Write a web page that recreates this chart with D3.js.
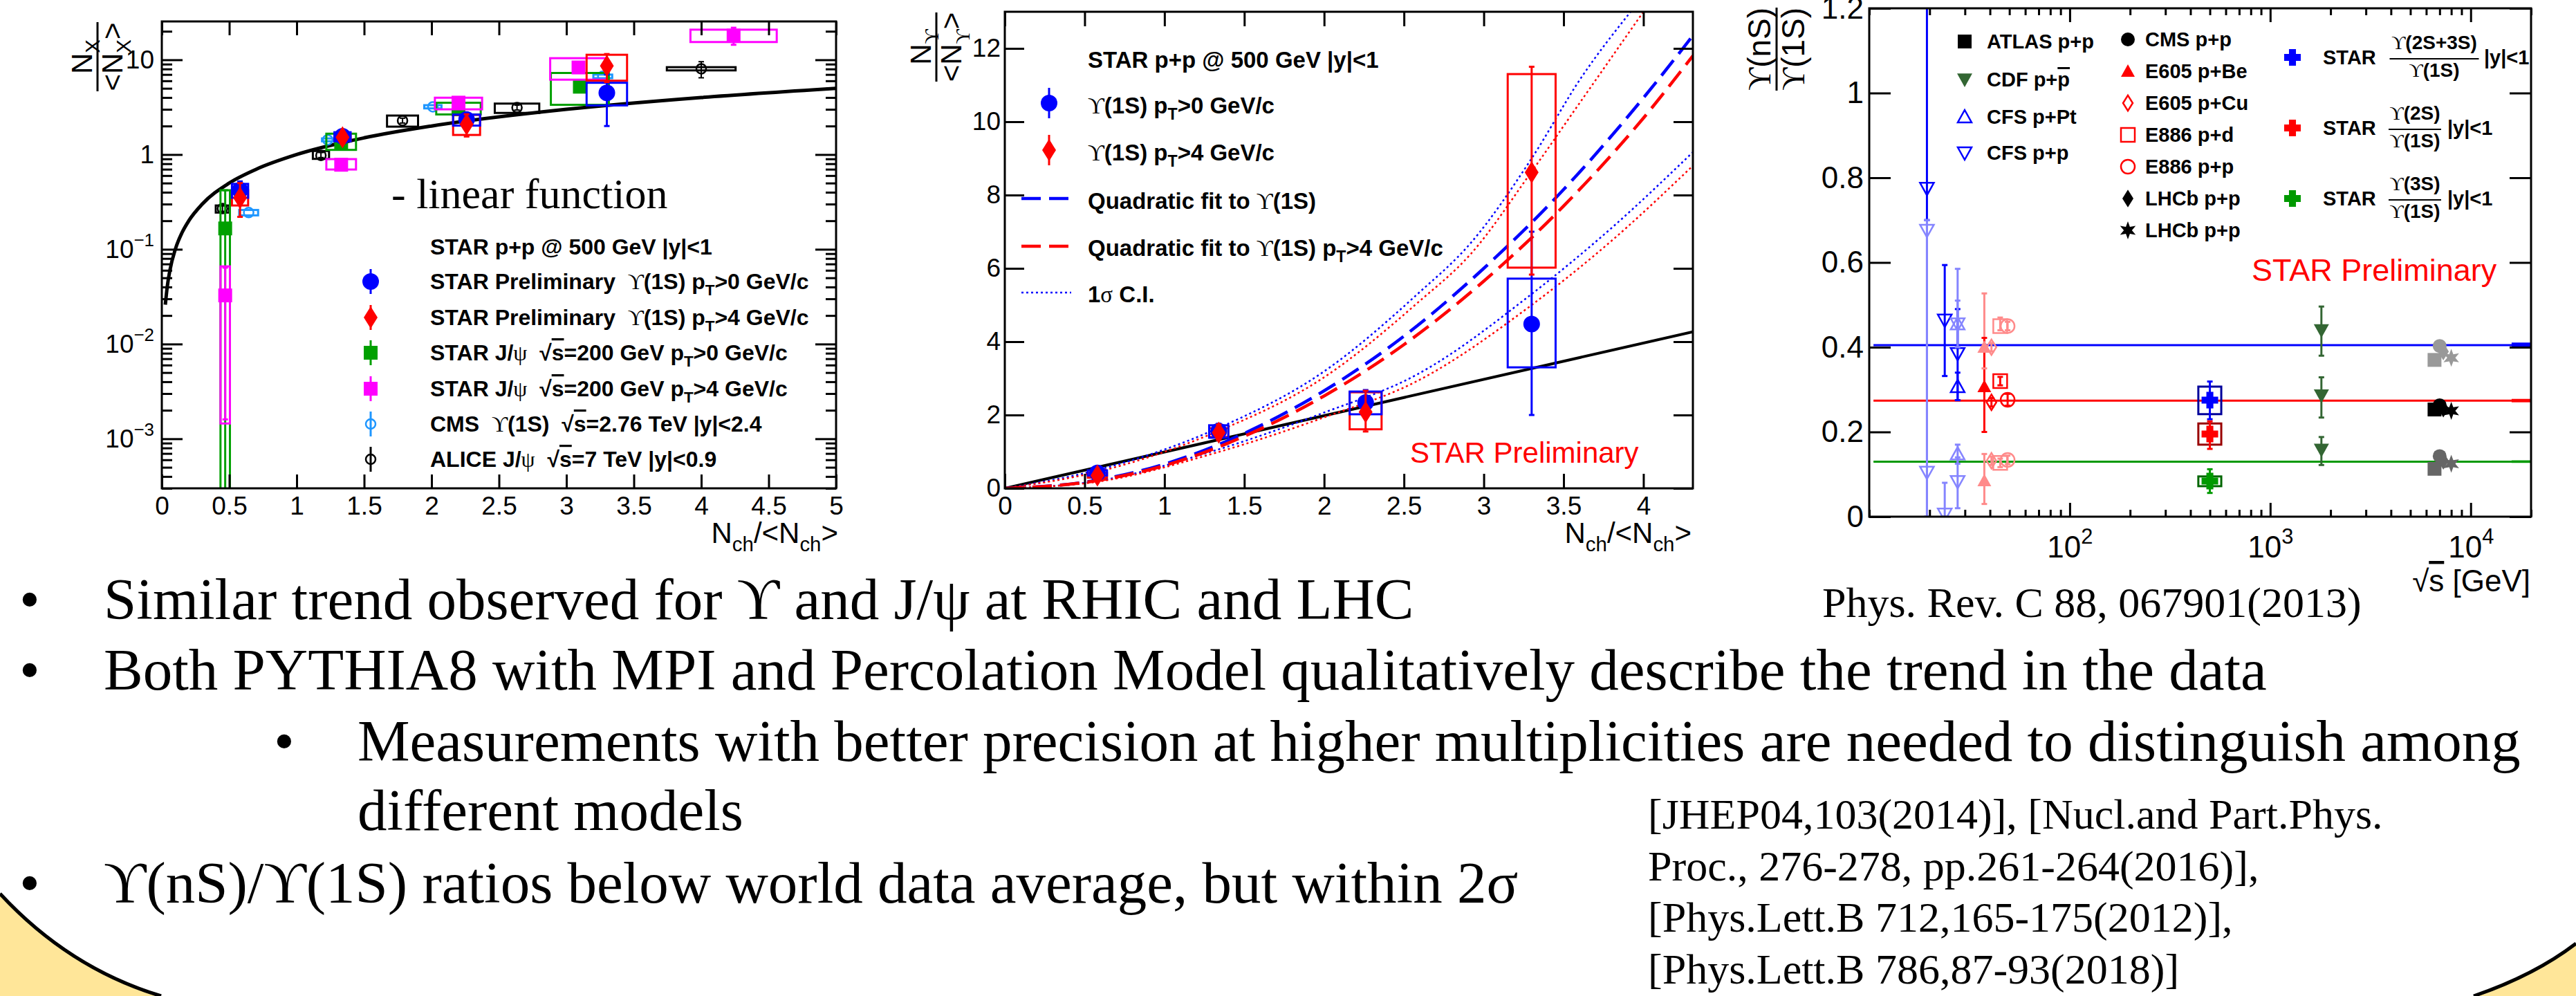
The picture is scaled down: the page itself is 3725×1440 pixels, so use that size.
<!DOCTYPE html>
<html>
<head>
<meta charset="utf-8">
<title>Upsilon yields vs multiplicity</title>
<script src="https://cdn.jsdelivr.net/npm/d3@7"></script>
<style>
  body { margin: 0; background: #fff; }
  svg { display: block; }
  text { white-space: pre; }
</style>
</head>
<body>
<svg id="slide" width="3725" height="1440"></svg>
<script>
// ---------- values ----------

// STAR Upsilon(1S), p+p 500 GeV |y|<1 (left and middle panels)
const upsX      = [0.58, 1.34, 2.26, 3.30];
const upsXerr   = [0.06, 0.06, 0.10, 0.15];
const ups0Y     = [0.42, 1.56, 2.34, 4.48];
const ups0Lo    = [0.33, 1.38, 2.05, 2.00];
const ups0Hi    = [0.52, 1.76, 2.68, 7.00];
const ups0SysLo = [0.35, 1.38, 2.02, 3.30];
const ups0SysHi = [0.49, 1.72, 2.64, 5.72];
const ups4Y     = [0.35, 1.52, 2.08, 8.62];
const ups4Lo    = [0.22, 1.32, 1.55, 5.83];
const ups4Hi    = [0.50, 1.74, 2.66, 11.5];
const ups4SysLo = [0.29, 1.40, 1.61, 6.02];
const ups4SysHi = [0.42, 1.64, 2.62, 11.3];

// left panel: STAR J/psi 200 GeV, pT>0
const jpsi0X     = [0.47, 1.33, 2.20, 3.10];
const jpsi0Xerr  = [0.035, 0.11, 0.165, 0.215];
const jpsi0Y     = [0.166, 1.34, 3.00, 5.20];
const jpsi0Lo    = [0.0001, 1.22, 2.80, 4.60];
const jpsi0Hi    = [0.42, 1.48, 3.25, 5.90];
const jpsi0SysLo = [0.0001, 1.12, 2.65, 3.35];
const jpsi0SysHi = [0.42, 1.66, 3.52, 7.26];
// left panel: STAR J/psi 200 GeV, pT>4
const jpsi4X     = [0.47, 1.33, 2.20, 3.09, 4.24];
const jpsi4Xerr  = [0.035, 0.11, 0.175, 0.21, 0.32];
const jpsi4Y     = [0.0326, 0.78, 3.53, 8.30, 18.0];
const jpsi4Lo    = [0.0016, 0.70, 3.20, 7.60, 14.4];
const jpsi4Hi    = [0.064, 0.86, 3.85, 9.00, 21.8];
const jpsi4SysLo = [0.00145, 0.695, 3.00, 6.17, 15.4];
const jpsi4SysHi = [0.066, 0.895, 3.98, 10.4, 20.8];
// left panel: CMS Upsilon(1S) 2.76 TeV
const cmsX     = [0.644, 1.23, 2.01, 3.27];
const cmsXerr  = [0.07, 0.042, 0.064, 0.07];
const cmsY     = [0.244, 1.43, 3.19, 6.70];
const cmsSysLo = [0.228, 1.38, 3.07, 6.40];
const cmsSysHi = [0.260, 1.48, 3.32, 6.98];
// left panel: ALICE J/psi 7 TeV
const aliX     = [0.45, 1.18, 1.785, 2.634, 4.00];
const aliXerr  = [0.05, 0.06, 0.115, 0.165, 0.255];
const aliY     = [0.269, 0.98, 2.28, 3.13, 8.04];
const aliLo    = [0.252, 0.93, 2.15, 2.95, 6.46];
const aliHi    = [0.288, 1.05, 2.42, 3.32, 9.55];
const aliSysLo = [0.244, 0.90, 1.97, 2.75, 7.73];
const aliSysHi = [0.290, 1.09, 2.58, 3.45, 8.36];
// left panel: "linear function"
const linX = [0.026, 0.04, 0.06, 0.1, 0.15, 0.2, 0.3, 0.5, 0.7, 1, 1.5, 2, 3, 4, 5];
const linY = [0.026, 0.04, 0.06, 0.1, 0.15, 0.2, 0.3, 0.5, 0.7, 1, 1.5, 2, 3, 4, 5];

// middle panel curves
const midLinX = [0, 4.31];
const midLinY = [0, 4.27];
const fitX    = [0, 0.5, 1, 1.5, 2, 2.5, 3, 3.5, 4, 4.31];
const fit0Y   = [0, 0.17, 0.66, 1.50, 2.66, 4.15, 6.00, 8.15, 10.65, 12.35];
const fit4Y   = [0, 0.16, 0.62, 1.42, 2.52, 3.92, 5.65, 7.70, 10.10, 11.80];
const ci0UpX  = [0, 0.58, 1.33, 1.99, 2.58, 2.92, 3.30, 3.61, 3.92];
const ci0UpY  = [0, 0.50, 1.63, 3.16, 5.28, 6.70, 9.00, 11.2, 13.0];
const ci4UpX  = [0, 0.58, 1.33, 1.99, 2.58, 2.92, 3.30, 3.61, 4.00];
const ci4UpY  = [0, 0.45, 1.55, 3.00, 5.04, 6.40, 8.64, 10.57, 13.0];
const ciLoX   = [0, 0.58, 1.33, 1.99, 2.58, 3.30, 3.80, 4.31];
const ci0LoY  = [0, 0.20, 1.05, 2.05, 3.10, 5.30, 7.10, 9.17];
const ci4LoY  = [0, 0.18, 0.98, 1.92, 2.92, 5.00, 6.75, 8.80];

// right panel: Upsilon(nS)/Upsilon(1S) vs sqrt(s) [GeV]; pale = drawn in the light shade
const cfsPPs    = [19.4, 19.4, 19.4, 23.8, 23.8, 27.6, 27.6, 27.6];
const cfsPPr    = [0.775, 0.676, 0.105, 0.464, 0.006, 0.455, 0.385, 0.083];
const cfsPPlo   = [0.70, 0.0, 0.0, 0.332, 0.0, 0.40, 0.275, 0.02];
const cfsPPhi   = [1.30, 0.70, 0.70, 0.594, 0.08, 0.585, 0.49, 0.14];
const cfsPPpale = [0, 1, 1, 0, 1, 1, 0, 1];
const cfsPts    = [27.6, 27.6, 27.6];
const cfsPtr    = [0.455, 0.307, 0.148];
const cfsPtlo   = [0.40, 0.275, 0.125];
const cfsPthi   = [0.51, 0.34, 0.17];
const cfsPtpale = [1, 0, 1];
const e605Bes   = [37.5, 37.5, 37.5];
const e605Ber   = [0.40, 0.307, 0.085];
const e605Belo  = [0.35, 0.20, 0.03];
const e605Behi  = [0.527, 0.422, 0.148];
const e605Cus   = [40.7, 40.7, 40.7];
const e605Cur   = [0.40, 0.27, 0.132];
const e605Culo  = [0.39, 0.26, 0.122];
const e605Cuhi  = [0.41, 0.28, 0.142];
const e886ds    = [45, 45, 45];
const e886dr    = [0.45, 0.32, 0.127];
const e886dlo   = [0.44, 0.31, 0.117];
const e886dhi   = [0.47, 0.33, 0.137];
const e886ps    = [49, 49, 49];
const e886pr    = [0.45, 0.276, 0.134];
const e886plo   = [0.44, 0.262, 0.124];
const e886phi   = [0.46, 0.29, 0.144];
const e8xxPale  = [1, 0, 1];
const cdfS      = [1800, 1800, 1800];
const cdfR      = [0.44, 0.286, 0.158];
const cdfLo     = [0.38, 0.234, 0.122];
const cdfHi     = [0.496, 0.329, 0.188];
const atlasS    = [6600, 6600, 6600];
const atlasR    = [0.37, 0.253, 0.113];
const cmsppS    = [7000, 7000, 7000];
const cmsppR    = [0.403, 0.263, 0.143];
const lhcbDS    = [7300, 7300, 7300];
const lhcbDR    = [0.39, 0.255, 0.132];
const lhcbSS    = [8000, 8000, 8000];
const lhcbSR    = [0.375, 0.25, 0.125];
const starS     = [500, 500, 500];
const starR     = [0.275, 0.195, 0.084];
const starLo    = [0.23, 0.16, 0.056];
const starHi    = [0.319, 0.225, 0.112];
const starSysLo = [0.242, 0.17, 0.072];
const starSysHi = [0.307, 0.22, 0.095];
const starSLo   = [438, 438, 438];
const starSHi   = [570, 570, 570];
const avgR      = [0.405, 0.274, 0.13];
const avgErr    = [0.006, 0.004, 0.003];
const avgS      = [10.5, 20000];
const avgBandS  = 16000;

// tick labels
const leftXTicks  = [0, 0.5, 1, 1.5, 2, 2.5, 3, 3.5, 4, 4.5, 5];
const leftXLabels = ["0", "0.5", "1", "1.5", "2", "2.5", "3", "3.5", "4", "4.5", "5"];
const leftYTicks  = [0.001, 0.01, 0.1, 1, 10];
const leftYLabels = ["10^\u22123", "10^\u22122", "10^\u22121", "1", "10"];
const midXTicks   = [0, 0.5, 1, 1.5, 2, 2.5, 3, 3.5, 4];
const midXLabels  = ["0", "0.5", "1", "1.5", "2", "2.5", "3", "3.5", "4"];
const midYTicks   = [0, 2, 4, 6, 8, 10, 12];
const midYLabels  = ["0", "2", "4", "6", "8", "10", "12"];
const rightXTicks  = [100, 1000, 10000];
const rightXLabels = ["10^2", "10^3", "10^4"];
const rightYTicks  = [0, 0.2, 0.4, 0.6, 0.8, 1, 1.2];
const rightYLabels = ["0", "0.2", "0.4", "0.6", "0.8", "1", "1.2"];

// ---------- drawing helpers ----------
const SANS = "'Liberation Sans', Arial, Helvetica, sans-serif";
const SERIF = "'Liberation Serif', 'DejaVu Serif', 'Times New Roman', serif";
const UPS = "\u03d2";
const svg = d3.select("#slide");
svg.append("rect").attr("width", 3725).attr("height", 1440).attr("fill", "#fff");

// parts: [text, flags]; flags may hold "sub", "sup", "bar" (overline), "g" (symbol-font glyph)
function rich(text, parts, fs) {
  let shift = 0;
  parts.forEach(([str, kind]) => {
    const k = (kind || "").split(" ");
    const target = k.includes("sub") ? 0.28 * fs : k.includes("sup") ? -0.42 * fs : 0;
    const ts = text.append("tspan").attr("dy", target - shift).text(str);
    shift = target;
    if (k.includes("sub") || k.includes("sup")) ts.attr("font-size", 0.7 * fs);
    if (k.includes("bar")) ts.style("text-decoration", "overline");
    if (k.includes("g")) ts.attr("font-family", SERIF).attr("font-weight", "normal");
  });
  return text;
}

function star6(s) {
  const pts = d3.range(12).map(k => {
    const a = Math.PI / 6 * k - Math.PI / 2, r = k % 2 ? s * 0.45 : s;
    return [r * Math.cos(a), r * Math.sin(a)];
  });
  return "M" + pts.join("L") + "Z";
}

function shape(type, s) {
  const t = s * 0.42;
  switch (type) {
    case "circle": return d3.symbol(d3.symbolCircle, Math.PI * s * s)();
    case "square": return `M${-s},${-s}H${s}V${s}H${-s}Z`;
    case "diamond": return `M0,${-1.6 * s}L${s},0L0,${1.6 * s}L${-s},0Z`;
    case "up": return `M0,${-s}L${s},${0.8 * s}L${-s},${0.8 * s}Z`;
    case "down": return `M0,${s}L${s},${-0.8 * s}L${-s},${-0.8 * s}Z`;
    case "cross": return `M${-t},${-s}H${t}V${-t}H${s}V${t}H${t}V${s}H${-t}V${t}H${-s}V${-t}H${-t}Z`;
    case "star": return star6(s);
  }
}

function plotArea(g, id, b) {
  g.append("clipPath").attr("id", id).append("rect")
    .attr("x", b.x0).attr("y", b.y0).attr("width", b.x1 - b.x0).attr("height", b.y1 - b.y0);
  return g.append("g").attr("clip-path", `url(#${id})`);
}

function boxes(g, xs, xerr, lo, hi, xS, yS, color) {
  g.append("g").selectAll("rect").data(xs).join("rect")
    .attr("x", (d, i) => xS(d - xerr[i]))
    .attr("width", (d, i) => xS(d + xerr[i]) - xS(d - xerr[i]))
    .attr("y", (d, i) => yS(hi[i]))
    .attr("height", (d, i) => yS(lo[i]) - yS(hi[i]))
    .attr("fill", "none").attr("stroke", color).attr("stroke-width", 3);
}

function errs(g, xs, lo, hi, xS, yS, color, w = 3) {
  const col = i => Array.isArray(color) ? color[i] : color;
  const e = g.append("g").attr("stroke-width", w);
  e.selectAll("line.v").data(xs).join("line").attr("class", "v")
    .attr("stroke", (d, i) => col(i))
    .attr("x1", d => xS(d)).attr("x2", d => xS(d))
    .attr("y1", (d, i) => yS(lo[i])).attr("y2", (d, i) => yS(hi[i]));
  const ends = xs.flatMap((d, i) => [[d, lo[i], i], [d, hi[i], i]]);
  e.selectAll("line.c").data(ends).join("line").attr("class", "c")
    .attr("stroke", d => col(d[2]))
    .attr("x1", d => xS(d[0]) - 4).attr("x2", d => xS(d[0]) + 4)
    .attr("y1", d => yS(d[1])).attr("y2", d => yS(d[1]));
}

function marks(g, xs, ys, xS, yS, type, s, color, filled, sw = 2.5) {
  const col = i => Array.isArray(color) ? color[i] : color;
  g.append("g").selectAll("path").data(xs).join("path")
    .attr("d", shape(type, s))
    .attr("transform", (d, i) => `translate(${xS(d)},${yS(ys[i])})`)
    .attr("fill", (d, i) => filled ? col(i) : "none")
    .attr("stroke", (d, i) => col(i)).attr("stroke-width", filled ? 0 : sw);
}

function curve(g, xs, ys, xS, yS, color, w, dash) {
  g.append("path").datum(xs)
    .attr("d", d3.line().x(d => xS(d)).y((d, i) => yS(ys[i])).curve(d3.curveMonotoneX))
    .attr("fill", "none").attr("stroke", color).attr("stroke-width", w)
    .attr("stroke-dasharray", dash || null);
}

function frame(g, b, xS, yS, xt, yt) {
  const tk = (gen, tr, vals, len) => g.append("g").attr("transform", tr)
    .call(gen.tickValues(vals).tickSize(-len).tickFormat(""))
    .call(a => { a.select(".domain").remove(); a.selectAll("line").attr("stroke", "#000").attr("stroke-width", 3); });
  [[xt.major, xt.len], [xt.minor || [], xt.minLen]].forEach(([v, len]) => {
    tk(d3.axisBottom(xS), `translate(0,${b.y1})`, v, len);
    tk(d3.axisTop(xS), `translate(0,${b.y0})`, v, len);
  });
  [[yt.major, yt.len], [yt.minor || [], yt.minLen]].forEach(([v, len]) => {
    tk(d3.axisLeft(yS), `translate(${b.x0},0)`, v, len);
    tk(d3.axisRight(yS), `translate(${b.x1},0)`, v, len);
  });
  g.append("rect").attr("x", b.x0).attr("y", b.y0)
    .attr("width", b.x1 - b.x0).attr("height", b.y1 - b.y0)
    .attr("fill", "none").attr("stroke", "#000").attr("stroke-width", 3);
}

function labels(g, gen, tr, vals, labs, fs, pad) {
  const a = g.append("g").attr("transform", tr)
    .call(gen.tickValues(vals).tickSize(0).tickPadding(pad).tickFormat((d, i) => labs[i]));
  a.select(".domain").remove();
  a.attr("font-family", SANS).attr("font-size", fs);
  a.selectAll("text").attr("fill", "#000").each(function (d, i) {
    const [b, e] = labs[i].split("^");
    if (e) {
      const t = d3.select(this).text(b);
      t.append("tspan").attr("dy", -0.45 * fs).attr("font-size", 0.7 * fs).text(e);
    }
  });
}

function fracTitle(g, x, y, num, den, fs, bar) {
  const t = g.append("g").attr("transform", `translate(${x},${y}) rotate(-90)`)
    .attr("font-family", SANS).attr("font-size", fs).attr("text-anchor", "middle");
  rich(t.append("text").attr("y", -0.2 * fs), num, fs);
  t.append("line").attr("x1", -bar / 2).attr("x2", bar / 2).attr("stroke", "#000").attr("stroke-width", 3);
  rich(t.append("text").attr("y", 0.86 * fs), den, fs);
}

function label(g, x, y, parts, fs, opt = {}) {
  const t = g.append("text").attr("x", x).attr("y", y)
    .attr("font-family", opt.font || SANS).attr("font-size", fs)
    .attr("font-weight", opt.bold ? "bold" : null)
    .attr("text-anchor", opt.anchor || "start")
    .attr("fill", opt.fill || "#000");
  return rich(t, parts, fs);
}

function legendMark(g, x, y, type, s, color, filled, whisker) {
  if (whisker) g.append("line").attr("x1", x).attr("x2", x).attr("y1", y - whisker).attr("y2", y + whisker)
    .attr("stroke", color).attr("stroke-width", 3);
  g.append("path").attr("d", shape(type, s)).attr("transform", `translate(${x},${y})`)
    .attr("fill", filled ? color : "none").attr("stroke", color).attr("stroke-width", filled ? 0 : 2.5);
}

// ---------- slide decoration ----------
const deco = svg.append("g");
[["M0,1292 Q100,1400 233,1440", " L0,1440 Z"], ["M3725,1364 Q3665,1410 3577,1440", " L3725,1440 Z"]].forEach(([d, close]) => {
  deco.append("path").attr("d", d + close).attr("fill", "#ffe699");
  deco.append("path").attr("d", d).attr("fill", "none").attr("stroke", "#000").attr("stroke-width", 5);
});

// ---------- left panel ----------
const L = { x0: 234, x1: 1209, y0: 31, y1: 706 };
const lx = d3.scaleLinear().domain([0, 5]).range([L.x0, L.x1]);
const ly = d3.scaleLog().domain([3.0e-4, 25.4]).range([L.y1, L.y0]);
const gL = svg.append("g");
const pL = plotArea(gL, "clipL", L);

curve(pL, linX, linY, lx, ly, "#000", 5);
boxes(pL, aliX, aliXerr, aliSysLo, aliSysHi, lx, ly, "#000");
errs(pL, aliX, aliLo, aliHi, lx, ly, "#000", 2);
marks(pL, aliX, aliY, lx, ly, "circle", 7, "#000", false);
boxes(pL, cmsX, cmsXerr, cmsSysLo, cmsSysHi, lx, ly, "#1e96ff");
marks(pL, cmsX, cmsY, lx, ly, "circle", 7, "#1e96ff", false);
boxes(pL, jpsi0X, jpsi0Xerr, jpsi0SysLo, jpsi0SysHi, lx, ly, "#00a000");
errs(pL, jpsi0X, jpsi0Lo, jpsi0Hi, lx, ly, "#00a000");
marks(pL, jpsi0X, jpsi0Y, lx, ly, "square", 10, "#00a000", true);
boxes(pL, jpsi4X, jpsi4Xerr, jpsi4SysLo, jpsi4SysHi, lx, ly, "#ff00ff");
errs(pL, jpsi4X, jpsi4Lo, jpsi4Hi, lx, ly, "#ff00ff");
marks(pL, jpsi4X, jpsi4Y, lx, ly, "square", 10, "#ff00ff", true);
boxes(pL, upsX, upsXerr, ups4SysLo, ups4SysHi, lx, ly, "#ff0000");
boxes(pL, upsX, upsXerr, ups0SysLo, ups0SysHi, lx, ly, "#0000ff");
errs(pL, upsX, ups0Lo, ups0Hi, lx, ly, "#0000ff");
marks(pL, upsX, ups0Y, lx, ly, "circle", 12, "#0000ff", true);
errs(pL, upsX, ups4Lo, ups4Hi, lx, ly, "#ff0000");
marks(pL, upsX, ups4Y, lx, ly, "diamond", 10, "#ff0000", true);

frame(gL, L, lx, ly,
  { major: leftXTicks, len: 20 },
  { major: leftYTicks, len: 30, minor: ly.ticks().filter(v => !leftYTicks.includes(v)), minLen: 15 });
labels(gL, d3.axisBottom(lx), `translate(0,${L.y1})`, leftXTicks, leftXLabels, 37, 12);
labels(gL, d3.axisLeft(ly), `translate(${L.x0},0)`, leftYTicks, leftYLabels, 37, 11);
fracTitle(gL, 141, 82, [["N", ""], ["X", "sub"]], [["<N", ""], ["X", "sub"], [">", ""]], 42, 100);
label(gL, 1212, 785, [["N", ""], ["ch", "sub"], ["/<N", ""], ["ch", "sub"], [">", ""]], 42, { anchor: "end" });
label(gL, 566, 301, [["- linear function", ""]], 62, { font: SERIF });

const leftLegend = [
  { y: 407, type: "circle", s: 12, color: "#0000ff", filled: true, parts: [["STAR Preliminary  ", ""], [UPS, "g"], ["(1S) p", ""], ["T", "sub"], [">0 GeV/c", ""]] },
  { y: 459, type: "diamond", s: 10, color: "#ff0000", filled: true, parts: [["STAR Preliminary  ", ""], [UPS, "g"], ["(1S) p", ""], ["T", "sub"], [">4 GeV/c", ""]] },
  { y: 510, type: "square", s: 10, color: "#00a000", filled: true, parts: [["STAR J/", ""], ["\u03c8", "g"], ["  \u221a", ""], ["s", "bar"], ["=200 GeV p", ""], ["T", "sub"], [">0 GeV/c", ""]] },
  { y: 562, type: "square", s: 10, color: "#ff00ff", filled: true, parts: [["STAR J/", ""], ["\u03c8", "g"], ["  \u221a", ""], ["s", "bar"], ["=200 GeV p", ""], ["T", "sub"], [">4 GeV/c", ""]] },
  { y: 613, type: "circle", s: 7, color: "#1e96ff", filled: false, parts: [["CMS  ", ""], [UPS, "g"], ["(1S)  \u221a", ""], ["s", "bar"], ["=2.76 TeV |y|<2.4", ""]] },
  { y: 664, type: "circle", s: 7, color: "#000", filled: false, parts: [["ALICE J/", ""], ["\u03c8", "g"], ["  \u221a", ""], ["s", "bar"], ["=7 TeV |y|<0.9", ""]] }
];
label(gL, 622, 368, [["STAR p+p @ 500 GeV |y|<1", ""]], 32, { bold: true });
leftLegend.forEach(e => {
  legendMark(gL, 536, e.y, e.type, e.s, e.color, e.filled, 18);
  label(gL, 622, e.y + 11, e.parts, 32, { bold: true });
});

// ---------- middle panel ----------
const M = { x0: 1453, x1: 2448, y0: 17, y1: 706 };
const mx = d3.scaleLinear().domain([0, 4.31]).range([M.x0, M.x1]);
const my = d3.scaleLinear().domain([0, 13]).range([M.y1, M.y0]);
const gM = svg.append("g");
const pM = plotArea(gM, "clipM", M);

curve(pM, midLinX, midLinY, mx, my, "#000", 4);
curve(pM, ci0UpX, ci0UpY, mx, my, "#0000ff", 2.5, "3,4");
curve(pM, ciLoX, ci0LoY, mx, my, "#0000ff", 2.5, "3,4");
curve(pM, ci4UpX, ci4UpY, mx, my, "#ff0000", 2.5, "3,4");
curve(pM, ciLoX, ci4LoY, mx, my, "#ff0000", 2.5, "3,4");
curve(pM, fitX, fit0Y, mx, my, "#0000ff", 4.5, "28,12");
curve(pM, fitX, fit4Y, mx, my, "#ff0000", 4.5, "28,12");
boxes(pM, upsX, upsXerr, ups4SysLo, ups4SysHi, mx, my, "#ff0000");
boxes(pM, upsX, upsXerr, ups0SysLo, ups0SysHi, mx, my, "#0000ff");
errs(pM, upsX, ups0Lo, ups0Hi, mx, my, "#0000ff");
marks(pM, upsX, ups0Y, mx, my, "circle", 12, "#0000ff", true);
errs(pM, upsX, ups4Lo, ups4Hi, mx, my, "#ff0000");
marks(pM, upsX, ups4Y, mx, my, "diamond", 10, "#ff0000", true);

frame(gM, M, mx, my, { major: midXTicks, len: 21 }, { major: midYTicks, len: 28 });
labels(gM, d3.axisBottom(mx), `translate(0,${M.y1})`, midXTicks, midXLabels, 37, 12);
labels(gM, d3.axisLeft(my), `translate(${M.x0},0)`, midYTicks, midYLabels, 37, 6);
fracTitle(gM, 1354, 68, [["N", ""], [UPS, "sub g"]], [["<N", ""], [UPS, "sub g"], [">", ""]], 42, 100);
label(gM, 2446, 785, [["N", ""], ["ch", "sub"], ["/<N", ""], ["ch", "sub"], [">", ""]], 42, { anchor: "end" });
label(gM, 2039, 669, [["STAR Preliminary", ""]], 42, { fill: "#ff0000" });

label(gM, 1573, 98, [["STAR p+p @ 500 GeV |y|<1", ""]], 33, { bold: true });
legendMark(gM, 1517, 149, "circle", 12, "#0000ff", true, 22);
label(gM, 1573, 164, [[UPS, "g"], ["(1S) p", ""], ["T", "sub"], [">0 GeV/c", ""]], 33, { bold: true });
legendMark(gM, 1517, 217, "diamond", 10, "#ff0000", true, 22);
label(gM, 1573, 232, [[UPS, "g"], ["(1S) p", ""], ["T", "sub"], [">4 GeV/c", ""]], 33, { bold: true });
[[287, "#0000ff", "28,12", 4.5], [356, "#ff0000", "28,12", 4.5], [423, "#0000ff", "3,4", 2.5]].forEach(([y, c, dash, w]) => {
  gM.append("line").attr("x1", 1477).attr("x2", 1549).attr("y1", y).attr("y2", y)
    .attr("stroke", c).attr("stroke-width", w).attr("stroke-dasharray", dash);
});
label(gM, 1573, 302, [["Quadratic fit to ", ""], [UPS, "g"], ["(1S)", ""]], 33, { bold: true });
label(gM, 1573, 370, [["Quadratic fit to ", ""], [UPS, "g"], ["(1S) p", ""], ["T", "sub"], [">4 GeV/c", ""]], 33, { bold: true });
label(gM, 1573, 437, [["1", ""], ["\u03c3", "g"], [" C.I.", ""]], 33, { bold: true });

// ---------- right panel ----------
const R = { x0: 2703, x1: 3660, y0: 12, y1: 747 };
const rx = d3.scaleLog().domain([10, 20000]).range([R.x0, R.x1]);
const ry = d3.scaleLinear().domain([0, 1.2]).range([R.y1, R.y0]);
const gR = svg.append("g");
const pR = plotArea(gR, "clipR", R);
const starCol = ["#0000ff", "#ff0000", "#009900"];
const starBox = ["#00009a", "#990000", "#006600"];

avgR.forEach((v, i) => {
  pR.append("line").attr("x1", rx(avgS[0])).attr("x2", rx(avgS[1]))
    .attr("y1", ry(v)).attr("y2", ry(v)).attr("stroke", starCol[i]).attr("stroke-width", 3);
  pR.append("rect").attr("x", rx(avgBandS)).attr("width", rx(avgS[1]) - rx(avgBandS))
    .attr("y", ry(v + avgErr[i])).attr("height", ry(v - avgErr[i]) - ry(v + avgErr[i]))
    .attr("fill", starCol[i]);
});

const blue = ["#0000ff", "#8585ff"], red = ["#ff0000", "#ff8a8a"];
const worldSets = [
  [cfsPPs, cfsPPr, cfsPPlo, cfsPPhi, cfsPPpale, "down", false, blue],
  [cfsPts, cfsPtr, cfsPtlo, cfsPthi, cfsPtpale, "up", false, blue],
  [e605Bes, e605Ber, e605Belo, e605Behi, e8xxPale, "up", true, red],
  [e605Cus, e605Cur, e605Culo, e605Cuhi, e8xxPale, "diamond", false, red],
  [e886ds, e886dr, e886dlo, e886dhi, e8xxPale, "square", false, red],
  [e886ps, e886pr, e886plo, e886phi, e8xxPale, "circle", false, red]
];
worldSets.forEach(([s, r, lo, hi, pale, type, filled, pal]) => {
  const cols = pale.map(p => pal[p]);
  errs(pR, s, lo, hi, rx, ry, cols, 3);
  marks(pR, s, r, rx, ry, type, type === "diamond" ? 7 : 10, cols, filled);
});
errs(pR, cdfS, cdfLo, cdfHi, rx, ry, "#336633", 3);
marks(pR, cdfS, cdfR, rx, ry, "down", 11, "#336633", true);
const lhcCol = ["#999999", "#000000", "#666666"];
marks(pR, atlasS, atlasR, rx, ry, "square", 10, lhcCol, true);
marks(pR, cmsppS, cmsppR, rx, ry, "circle", 10, lhcCol, true);
marks(pR, lhcbDS, lhcbDR, rx, ry, "diamond", 8, lhcCol, true);
marks(pR, lhcbSS, lhcbSR, rx, ry, "star", 13, lhcCol, true);

pR.append("g").selectAll("rect").data(starS).join("rect")
  .attr("x", (d, i) => rx(starSLo[i])).attr("width", (d, i) => rx(starSHi[i]) - rx(starSLo[i]))
  .attr("y", (d, i) => ry(starSysHi[i])).attr("height", (d, i) => ry(starSysLo[i]) - ry(starSysHi[i]))
  .attr("fill", "none").attr("stroke", (d, i) => starBox[i]).attr("stroke-width", 3);
errs(pR, starS, starLo, starHi, rx, ry, starCol, 3);
marks(pR, starS, starR, rx, ry, "cross", 12, starCol, true);

frame(gR, R, rx, ry,
  { major: rightXTicks, len: 20, minor: rx.ticks().filter(v => !rightXTicks.includes(v)), minLen: 10 },
  { major: rightYTicks, len: 31 });
labels(gR, d3.axisBottom(rx), `translate(0,${R.y1})`, rightXTicks, rightXLabels, 44, 28);
labels(gR, d3.axisLeft(ry), `translate(${R.x0},0)`, rightYTicks, rightYLabels, 44, 8);
fracTitle(gR, 2569, 71, [[UPS, "g"], ["(nS)", ""]], [[UPS, "g"], ["(1S)", ""]], 46, 120);
label(gR, 3659, 855, [["\u221a", ""], ["s", "bar"], [" [GeV]", ""]], 44, { anchor: "end" });
label(gR, 3256, 406, [["STAR Preliminary", ""]], 45, { fill: "#ff0000" });

const rightLegend = [
  [2841, 60, "square", 10, "#000", true, [["ATLAS p+p", ""]]],
  [2841, 115, "down", 11, "#336633", true, [["CDF p+", ""], ["p", "bar"]]],
  [2841, 169, "up", 10, "#0000ff", false, [["CFS p+Pt", ""]]],
  [2841, 221, "down", 10, "#0000ff", false, [["CFS p+p", ""]]],
  [3077, 57, "circle", 10, "#000", true, [["CMS p+p", ""]]],
  [3077, 103, "up", 10, "#ff0000", true, [["E605 p+Be", ""]]],
  [3077, 149, "diamond", 7, "#ff0000", false, [["E605 p+Cu", ""]]],
  [3077, 195, "square", 10, "#ff0000", false, [["E886 p+d", ""]]],
  [3077, 241, "circle", 10, "#ff0000", false, [["E886 p+p", ""]]],
  [3077, 287, "diamond", 8, "#000", true, [["LHCb p+p", ""]]],
  [3077, 333, "star", 13, "#000", true, [["LHCb p+p", ""]]]
];
rightLegend.forEach(([x, y, type, s, c, f, parts]) => {
  legendMark(gR, x, y, type, s, c, f, 0);
  label(gR, x + (x < 3000 ? 32 : 25), y + 10, parts, 29, { bold: true });
});
const starLegend = [
  [83, "(2S+3S)", 3520, 129, 3592],
  [185, "(2S)", 3492, 76, 3539],
  [287, "(3S)", 3492, 76, 3539]
];
starLegend.forEach(([y, num, cx, bw, yx], i) => {
  legendMark(gR, 3315, y, "cross", 12, starCol[i], true, 0);
  label(gR, 3359, y + 10, [["STAR", ""]], 29, { bold: true });
  label(gR, cx, y - 12, [[UPS, "g"], [num, ""]], 28, { bold: true, anchor: "middle" });
  gR.append("line").attr("x1", cx - bw / 2).attr("x2", cx + bw / 2).attr("y1", y + 2).attr("y2", y + 2)
    .attr("stroke", "#000").attr("stroke-width", 2);
  label(gR, cx, y + 28, [[UPS, "g"], ["(1S)", ""]], 28, { bold: true, anchor: "middle" });
  label(gR, yx, y + 10, [["|y|<1", ""]], 29, { bold: true });
});

// ---------- slide text ----------
const gT = svg.append("g");
const bullets = [
  [43, 150, 895, "Similar trend observed for \u03d2 and J/\u03c8 at RHIC and LHC"],
  [43, 150, 997, "Both PYTHIA8 with MPI and Percolation Model qualitatively describe the trend in the data"],
  [411, 517, 1100, "Measurements with better precision at higher multiplicities are needed to distinguish among"],
  [null, 517, 1200, "different models"],
  [43, 150, 1305, "\u03d2(nS)/\u03d2(1S) ratios below world data average, but within 2\u03c3"]
];
bullets.forEach(([bx, x, y, str]) => {
  if (bx !== null) label(gT, bx, y, [["\u2022", ""]], 85, { font: SERIF, anchor: "middle" });
  label(gT, x, y, [[str, ""]], 85, { font: SERIF });
});
label(gT, 2635, 892, [["Phys. Rev. C 88, 067901(2013)", ""]], 62, { font: SERIF });
const refs = [
  "[JHEP04,103(2014)], [Nucl.and Part.Phys.",
  "Proc., 276-278, pp.261-264(2016)],",
  "[Phys.Lett.B 712,165-175(2012)],",
  "[Phys.Lett.B 786,87-93(2018)]"
];
refs.forEach((r, i) => label(gT, 2383, 1198 + i * 74.5, [[r, ""]], 62, { font: SERIF }));
</script>
</body>
</html>
